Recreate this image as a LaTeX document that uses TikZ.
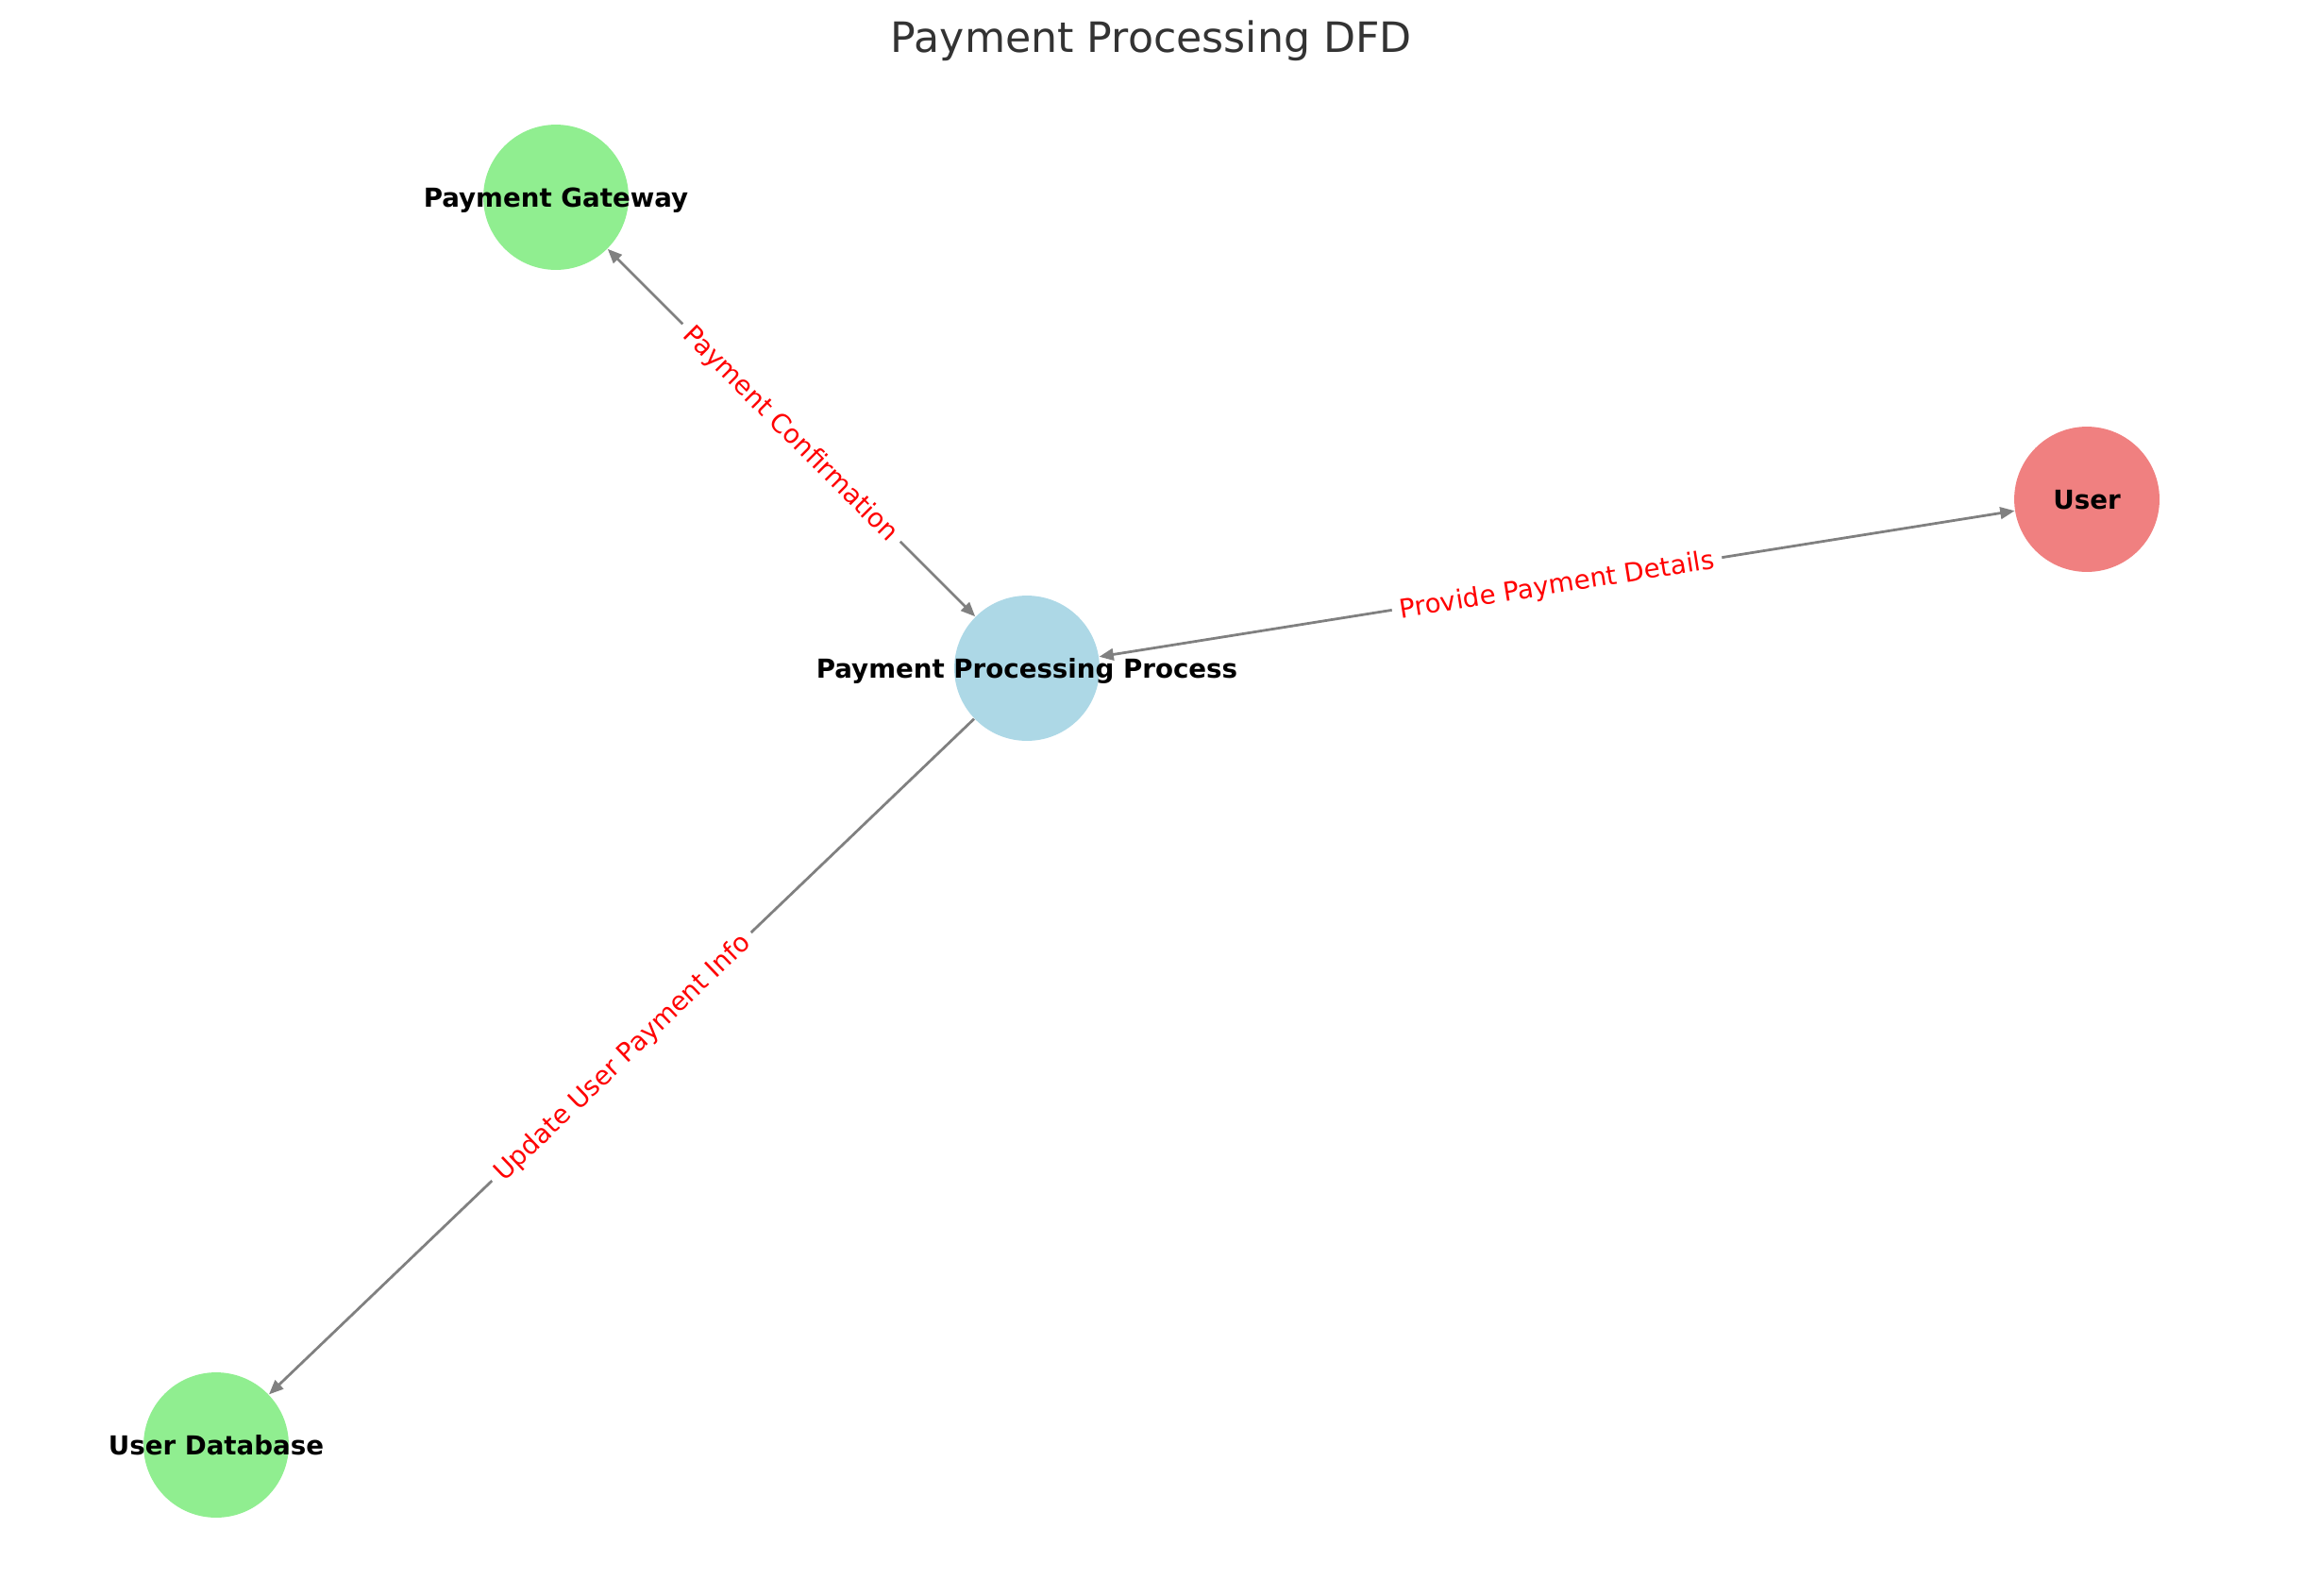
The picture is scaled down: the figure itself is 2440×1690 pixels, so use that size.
\documentclass[tikz,border=0pt]{standalone}
\usepackage{fontspec}
\setmainfont{DejaVu Sans}
\usetikzlibrary{arrows.meta}
\definecolor{storegreen}{HTML}{90EE90}
\definecolor{procblue}{HTML}{ADD8E6}
\definecolor{usercoral}{HTML}{F08080}
\definecolor{titlegray}{HTML}{333333}
\begin{document}
\begin{tikzpicture}[x=0.36bp, y=-0.36bp, >={Triangle[length=5.5bp,width=4.5bp]},
		ent/.style={circle, minimum size=55.4bp, inner sep=0pt},
		entname/.style={font=\fontsize{10}{12}\selectfont\bfseries, text height=7.3pt, text depth=0pt},
		flow/.style={draw=gray, line width=1bp},
		flowname/.style={font=\fontsize{10}{12}\selectfont, text=red, fill=white, rounded corners=3pt, inner sep=3pt, text height=7.3pt, text depth=0pt, sloped, midway}]
	\useasboundingbox (0,0) rectangle (2440,1690);
	\node[font=\fontsize{16}{19}\selectfont, text=titlegray, anchor=base] (title) at (1220,55) {Payment Processing DFD};
	% entities and process
	\node[ent, fill=storegreen, label={[entname]center:Payment Gateway}] (gateway) at (589,209) {};
	\node[ent, fill=procblue, label={[entname]center:Payment Processing Process}] (proc) at (1088,708) {};
	\node[ent, fill=usercoral, label={[entname]center:User}] (user) at (2211,529) {};
	\node[ent, fill=storegreen, label={[entname]center:User Database}] (userdb) at (229,1531) {};
	% flows
	\draw[flow, <->] (gateway) -- node[flowname] {Payment Confirmation} (proc);
	\draw[flow, <->] (proc) -- node[flowname] {Provide Payment Details} (user);
	\draw[flow, ->] (proc) -- node[flowname] {Update User Payment Info} (userdb);
\end{tikzpicture}
\end{document}
